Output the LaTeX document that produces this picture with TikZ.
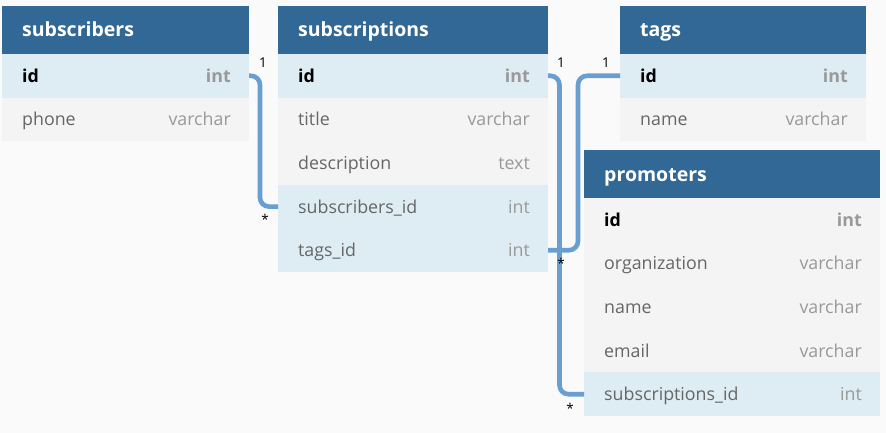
\documentclass[tikz,border=0pt]{standalone}
\usepackage{fontspec}
\setmainfont{Open Sans}
\definecolor{bgcol}{HTML}{FAFAFA}
\definecolor{hdrblue}{HTML}{316896}
\definecolor{rowblue}{HTML}{DEECF4}
\definecolor{rowgray}{HTML}{F4F4F4}
\definecolor{fieldcol}{HTML}{666666}
\definecolor{typecol}{HTML}{999999}
\definecolor{relblue}{HTML}{689FD0}
\tikzset{
  rowbox/.style={anchor=north west, minimum height=43.6pt, inner sep=0pt, outer sep=0pt, draw=none},
  hdrbox/.style={anchor=north west, minimum height=48pt, inner sep=0pt, outer sep=0pt, draw=none, fill=hdrblue},
  hdrtxt/.style={inner sep=0pt, text=white, font=\bfseries\fontsize{19.5}{23}\selectfont},
  fld/.style={inner sep=0pt, text=fieldcol, font=\fontsize{17.8}{21}\selectfont},
  typ/.style={inner sep=0pt, text=typecol, font=\fontsize{17.8}{21}\selectfont},
  pkf/.style={inner sep=0pt, text=black, font=\bfseries\fontsize{17.8}{21}\selectfont},
  pkt/.style={inner sep=0pt, text=typecol, font=\bfseries\fontsize{17.8}{21}\selectfont},
  rel/.style={draw=relblue, line width=4.6pt, rounded corners=9pt},
  card/.style={inner sep=0pt, text=black, font=\fontsize{13.5}{16}\selectfont},
}
\newcommand\erow[9]{%
  \node[rowbox, fill=#5, minimum width=#4pt] (#1) at (#2,#3) {};
  \node[#6, anchor=base west] (#1-f) at ([xshift=20pt,yshift=-6.5pt]#1.west) {#7};
  \node[#8, anchor=base east] (#1-t) at ([xshift=-18pt,yshift=-6.5pt]#1.east) {#9};
}
\newcommand\ehdr[5]{%
  \node[hdrbox, minimum width=#4pt] (#1) at (#2,#3) {};
  \node[hdrtxt, anchor=base west] (#1-t) at ([xshift=20pt,yshift=-7pt]#1.west) {#5};
}
\begin{document}
\begin{tikzpicture}[x=1pt,y=-1pt]
\path[fill=bgcol] (0,0) rectangle (886,433);
% subscribers
\ehdr{sbr}{2}{6}{247}{subscribers}
\erow{sbr-id}{2}{54}{247}{rowblue}{pkf}{id}{pkt}{int}
\erow{sbr-ph}{2}{97.6}{247}{rowgray}{fld}{phone}{typ}{varchar}
% subscriptions
\ehdr{sbs}{278}{6}{270}{subscriptions}
\erow{sbs-id}{278}{54}{270}{rowblue}{pkf}{id}{pkt}{int}
\erow{sbs-ti}{278}{97.6}{270}{rowgray}{fld}{title}{typ}{varchar}
\erow{sbs-de}{278}{141.2}{270}{rowgray}{fld}{description}{typ}{text}
\erow{sbs-sid}{278}{184.8}{270}{rowblue}{fld}{subscribers\_id}{typ}{int}
\erow{sbs-tid}{278}{228.4}{270}{rowblue}{fld}{tags\_id}{typ}{int}
% tags
\ehdr{tag}{620}{6}{246}{tags}
\erow{tag-id}{620}{54}{246}{rowblue}{pkf}{id}{pkt}{int}
\erow{tag-nm}{620}{97.6}{246}{rowgray}{fld}{name}{typ}{varchar}
% promoters
\ehdr{pro}{584}{150}{296}{promoters}
\erow{pro-id}{584}{198}{296}{rowgray}{pkf}{id}{pkt}{int}
\erow{pro-or}{584}{241.6}{296}{rowgray}{fld}{organization}{typ}{varchar}
\erow{pro-nm}{584}{285.2}{296}{rowgray}{fld}{name}{typ}{varchar}
\erow{pro-em}{584}{328.8}{296}{rowgray}{fld}{email}{typ}{varchar}
\erow{pro-sid}{584}{372.4}{296}{rowblue}{fld}{subscriptions\_id}{typ}{int}
% relations
\draw[rel] (sbr-id.east) -- ([xshift=11pt]sbr-id.east) |- (sbs-sid.west);
\draw[rel] (sbs-id.east) -- ([xshift=11.5pt]sbs-id.east) |- (pro-sid.west);
\draw[rel] (tag-id.west) -- ([xshift=-42pt]tag-id.west) |- (sbs-tid.east);
% cardinalities
\node[card] (c1a) at (263,63) {1};
\node[card] (c1b) at (265,219) {*};
\node[card] (c2a) at (561,63) {1};
\node[card] (c2b) at (570,408) {*};
\node[card] (c3a) at (606,63) {1};
\node[card] (c3b) at (561,263) {*};
\end{tikzpicture}
\end{document}
